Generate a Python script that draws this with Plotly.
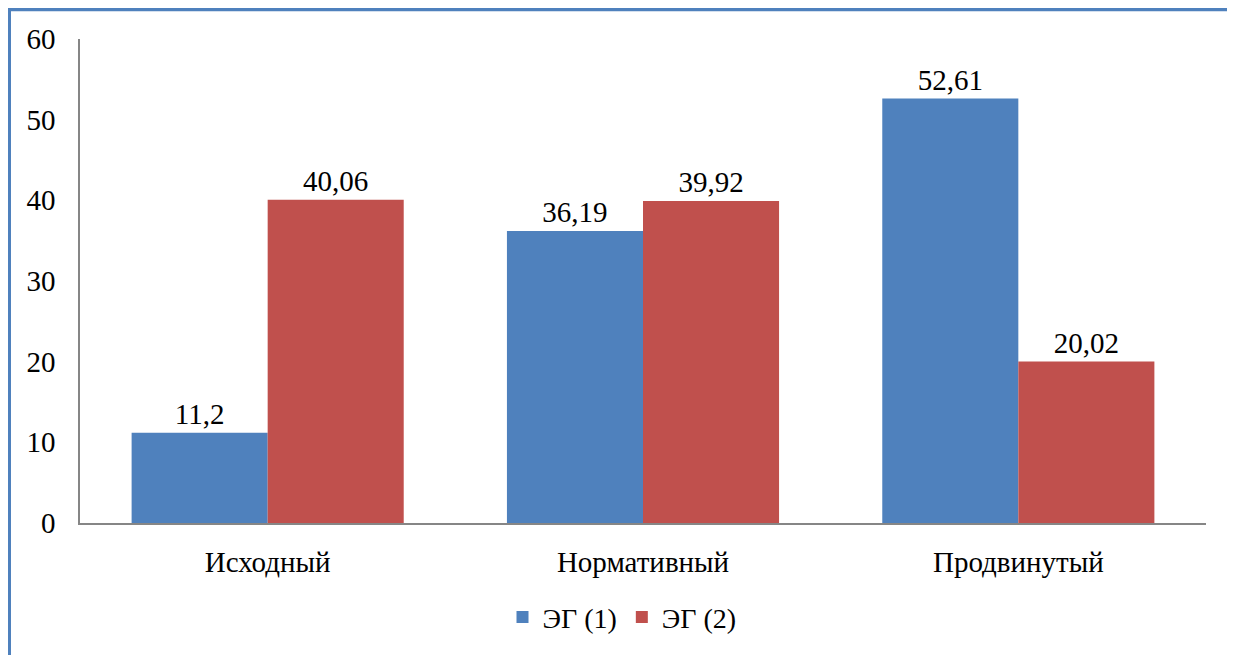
import plotly.graph_objects as go

categories = ["Исходный", "Нормативный", "Продвинутый"]
series_names = ["ЭГ (1)", "ЭГ (2)"]
eg1 = [11.2, 36.19, 52.61]
eg2 = [40.06, 39.92, 20.02]
y_ticks = [0, 10, 20, 30, 40, 50, 60]
colors = ["#4F81BD", "#C0504D"]

OFF = 8  # default page body margin
W, H = 1235 - OFF, 655 - OFF
L, R, T, B = 80 - OFF, 29, 39 - OFF, 129
pw, ph = W - L - R, H - T - B
FONT = "Liberation Serif"

def px(x):
    return (x - OFF - L) / pw

def py(y):
    return (H - B - (y - OFF)) / ph

def fmt(v):
    return str(v).replace(".", ",")

fig = go.Figure()
for name, vals, col in zip(series_names, [eg1, eg2], colors):
    fig.add_trace(go.Bar(
        x=categories, y=vals, name=name,
        marker=dict(color=col, line=dict(width=0)),
        text=[fmt(v) for v in vals], textposition="outside",
        textfont=dict(family=FONT, size=29, color="black"),
        cliponaxis=False,
    ))

fig.update_layout(
    width=W, height=H,
    margin=dict(l=L, r=R, t=T, b=B),
    barmode="group", bargap=0.275, bargroupgap=0,
    plot_bgcolor="white", paper_bgcolor="white",
    font=dict(family=FONT, size=29, color="black"),
    showlegend=True,
    legend=dict(orientation="h", x=0.5 - 21 / pw, xanchor="center", y=py(621), yanchor="middle",
                font=dict(family=FONT, size=28, color="black"), traceorder="normal"),
    xaxis=dict(showline=True, linecolor="#868686", linewidth=2, ticks="",
               showgrid=False, tickfont=dict(family=FONT, size=29, color="black"),
               ticklabelstandoff=12),
    yaxis=dict(range=[0, 60], tickvals=y_ticks, showline=True, linecolor="#868686",
               linewidth=1.5, ticks="", showgrid=False, zeroline=False,
               tickfont=dict(family=FONT, size=29, color="black"), ticklabelstandoff=17),
    shapes=[dict(type="rect", xref="paper", yref="paper",
                 x0=px(9), x1=px(1233), y0=py(680), y1=py(9),
                 line=dict(color="#4F81BD", width=4), fillcolor="rgba(0,0,0,0)",
                 layer="above")],
)

fig.write_html("out.html")
